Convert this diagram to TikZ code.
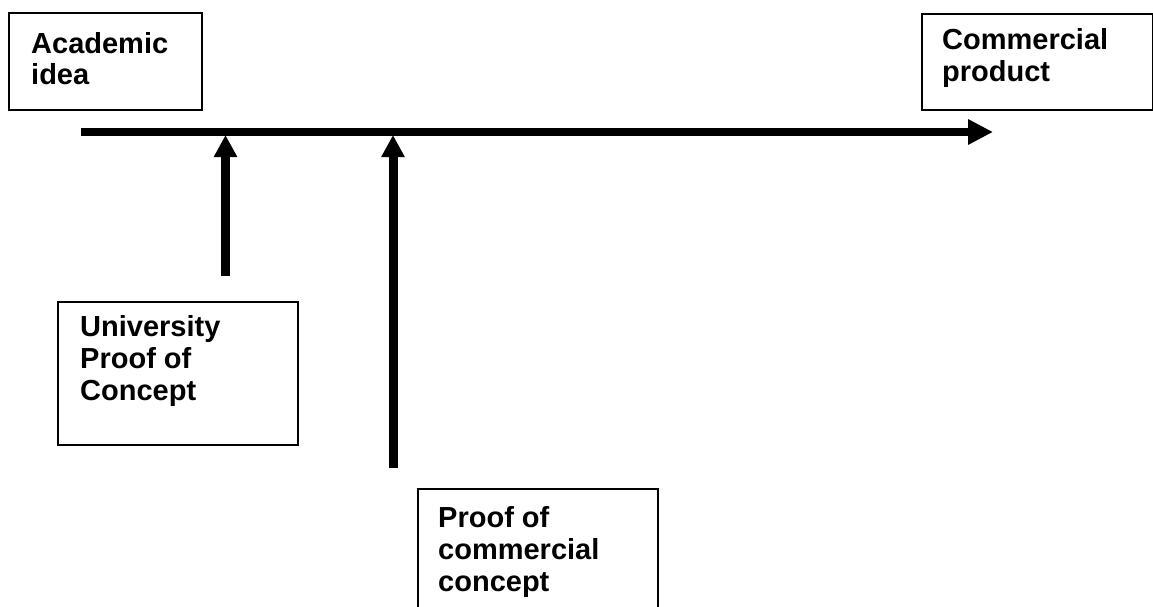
\documentclass[tikz,border=0pt]{standalone}
\usepackage{fontspec}
\setmainfont{Liberation Sans}
\usetikzlibrary{arrows.meta}
\begin{document}
\begin{tikzpicture}[x=1pt,y=-1pt,
  box/.style={draw,line width=1.8pt,inner sep=0pt,anchor=north west},
  lbl/.style={anchor=base west,inner sep=0pt,align=left,font=\fontsize{29}{32}\selectfont\bfseries},
  harr/.style={line width=8pt,-{Triangle[length=25pt,width=24pt]}},
  varr/.style={line width=9pt,-{Triangle[length=22pt,width=22pt]}}]
\clip (0,0) rectangle (1153,607);
\fill[white] (0,0) rectangle (1153,607);
% boxes
\node[box,minimum width=193pt,minimum height=97pt] (acbox) at (8,12) {};
\node[box,minimum width=231pt,minimum height=96pt] (cpbox) at (921,13) {};
\node[box,minimum width=240pt,minimum height=143pt] (upbox) at (57,301) {};
\node[box,minimum width=240pt,minimum height=140pt] (pcbox) at (417,488) {};
% labels (base anchor = last line's baseline)
\node[lbl] (actxt) at (31,85) {Academic\\idea};
\node[lbl] (cptxt) at (942,82) {Commercial\\product};
\node[lbl] (uptxt) at (80,400) {University\\Proof of\\Concept};
\node[lbl] (pctxt) at (438,591) {Proof of\\commercial\\concept};
% timeline
\coordinate (tstart) at (81,132);
\coordinate (tend) at (993,132);
\draw[harr] (tstart) -- (tend);
% upward arrows
\coordinate (u0) at (225.5,276);
\coordinate (u1) at (225.5,135);
\coordinate (p0) at (393,468);
\coordinate (p1) at (393,135);
\draw[varr] (u0) -- (u1);
\draw[varr] (p0) -- (p1);
\end{tikzpicture}
\end{document}
